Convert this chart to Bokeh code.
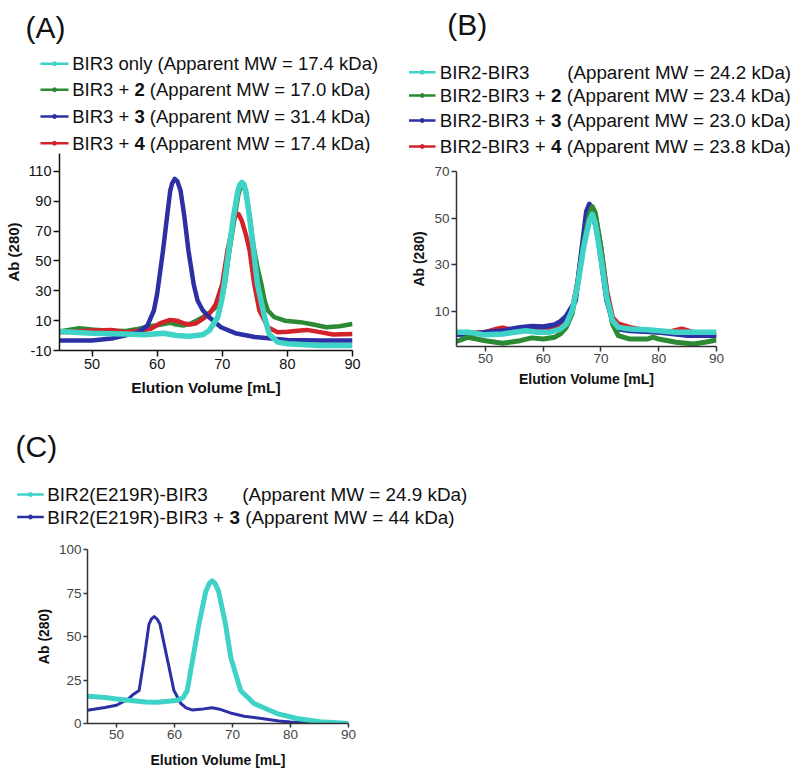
from bokeh.plotting import figure
from bokeh.models import Range1d, FixedTicker
from bokeh.core.properties import value
from bokeh.layouts import column, row
from bokeh.embed import file_html
from bokeh.resources import INLINE

# ---------------- data ----------------
# Panel A : BIR3
A_blue_x = [45, 50, 53, 55, 57, 58.5, 59.5, 60, 60.9, 61.5, 62, 62.3, 62.7, 63.1, 63.6, 64.2, 64.8, 65.6, 66.2, 67, 68, 69.8, 72, 75, 80, 85, 90]
A_blue_y = [-3.3, -3.3, -2, 0, 2, 6.7, 16.8, 28, 57, 79, 97, 102, 105, 103.5, 97, 79, 57, 34.6, 23.5, 17, 12.3, 5.6, 1.6, -1, -3, -3.3, -3.3]
A_cyan_x = [45, 50, 55, 58, 61, 63, 65, 67, 68, 69.3, 69.9, 70.3, 71, 71.7, 72.4, 72.7, 73, 73.3, 73.6, 74.2, 74.8, 75.4, 76.5, 77.2, 78.5, 80, 85, 90]
A_cyan_y = [2.7, 1.6, 1.1, 0.5, 1.6, 0, -0.4, 0.5, 3.4, 12.3, 23.5, 34.6, 57, 79, 97, 101, 102.6, 101.5, 97, 79, 57, 34.6, 12.3, 1.1, -4.4, -5.5, -6.7, -6.7]
A_red_x = [45, 50, 53, 55, 57, 59, 60.5, 62, 63, 64, 65, 66, 67, 68, 69, 70, 70.8, 71.9, 72.5, 73, 73.6, 74.2, 74.9, 75.7, 77, 78.5, 80, 82, 83, 85, 87, 90]
A_red_y = [2.3, 3.4, 3.8, 2.3, 3, 4.5, 8.3, 10.5, 10, 8.3, 7.4, 8.3, 11.2, 14.5, 21, 34.6, 57, 79.6, 81.4, 77, 68, 57, 34.6, 16.8, 5.6, 2.3, 2.5, 3.4, 3.8, 2.3, 0.7, 1.1]
A_green_x = [45, 48, 50, 52, 55, 57, 59, 61, 62, 63, 64, 65, 66, 67, 68, 69, 70, 70.4, 71.1, 71.9, 72.5, 73, 73.6, 74.2, 74.8, 75.4, 76, 76.5, 77, 78, 79.6, 82, 84, 86, 88, 90]
A_green_y = [2.7, 5, 4, 3.4, 3, 4.5, 6.3, 7.8, 8.5, 7.4, 6.7, 7.8, 10, 12.3, 15.2, 19, 26, 34.6, 57, 79, 95, 101.5, 97, 80, 60, 45.8, 34.6, 23.5, 16.8, 12.3, 10, 9, 7.4, 5.6, 6.3, 7.8]

# Panel B : BIR2-BIR3
B_blue_x = [45, 48, 50, 53, 56, 58, 60, 62, 63, 64, 65.6, 66.3, 67, 67.5, 68, 68.5, 69.4, 70.2, 71, 72, 73, 75, 80, 85, 90]
B_blue_y = [0, 0.3, 1, 1.7, 3.1, 3.6, 3.4, 4.3, 5.7, 8, 14.6, 28.9, 43, 53, 56, 53, 43, 28.9, 14.6, 6, 2.4, 1.7, 1, -0.4, -0.4]
B_cyan_x = [45, 47, 50, 53, 55, 57, 59, 61, 63, 64, 65, 66, 67, 68, 68.5, 69, 70, 71, 72, 73, 75, 78, 80, 83, 86, 90]
B_cyan_y = [1, 1, -0.1, 0.3, 1, 1.7, 1, 1, 2.4, 4.6, 10.3, 21.7, 37.4, 48.9, 51.7, 48, 33, 16, 6, 3.1, 2.4, 2.1, 1.7, 1, 1, 1]
B_green_x = [45, 47, 50, 53, 56, 58, 60, 62, 63, 64, 65, 66, 67, 68, 68.5, 69, 70, 71, 72, 73, 75, 78, 79, 80, 83, 86, 88, 90]
B_green_y = [-2.9, -1.1, -2.6, -3.7, -2.6, -1.4, -1.9, -1.1, 0.3, 3.1, 8.9, 21.7, 38.9, 51.7, 54.9, 52.4, 37.4, 17.4, 4.6, -0.4, -1.9, -1.9, -1.1, -1.9, -3.3, -4, -3.3, -2.3]
B_red_x = [45, 50, 52, 53, 55, 58, 60, 62, 64, 65, 66, 67, 68, 68.5, 69, 70, 71, 72, 73, 75, 78, 80, 82, 84, 86, 88, 90]
B_red_y = [0.3, 1, 2.4, 2.9, 1.7, 1.7, 1.7, 3.1, 5.3, 10.3, 23, 40.3, 51.7, 54.6, 51.7, 37.4, 18.9, 7.4, 4.6, 3.1, 1.7, 1, 1.3, 2.4, 1, -0.4, -0.4]

# Panel C : BIR2(E219R)-BIR3
C_blue_x = [45, 48, 50, 52, 53, 53.9, 54.8, 55.6, 56, 56.5, 57, 57.5, 58.7, 59.9, 61.1, 62, 63, 65, 66.5, 68, 70, 72, 75, 78, 80, 85, 90]
C_blue_y = [7.6, 9.2, 10.5, 14, 17, 19, 38, 57, 60, 61.5, 60, 57, 38, 19, 11.5, 9, 7.8, 8.4, 9, 8, 5.7, 4.2, 2.9, 1.5, 0.8, 0.1, 0]
C_cyan_x = [45, 48, 50, 52, 55, 57, 59, 60.5, 61.5, 62.2, 63.2, 64.2, 65.4, 66, 66.5, 67, 67.6, 68.8, 69.7, 71.4, 73.7, 77.7, 81.1, 85.1, 90]
C_cyan_y = [15.6, 14.9, 14.1, 13.4, 12.4, 12.2, 12.8, 13.4, 15, 19, 38, 57, 76, 80.5, 82, 80.5, 76, 57, 38, 19, 11.5, 5.7, 2.9, 1, 0]

# ticks
X_TICKS = [50, 60, 70, 80, 90]
A_Y_TICKS = [-10, 10, 30, 50, 70, 90, 110]
B_Y_TICKS = [10, 30, 50, 70]
C_Y_TICKS = [0, 25, 50, 75, 100]

# legend texts
A_pre = ["BIR3 only", "BIR3 + ", "BIR3 + ", "BIR3 + "]
A_bold = ["", "2", "3", "4"]
A_mw = ["17.4", "17.0", "31.4", "17.4"]
B_pre = ["BIR2-BIR3", "BIR2-BIR3 + ", "BIR2-BIR3 + ", "BIR2-BIR3 + "]
B_bold = ["", "2", "3", "4"]
B_mw = ["24.2", "23.4", "23.0", "23.8"]
C_pre = ["BIR2(E219R)-BIR3", "BIR2(E219R)-BIR3 + "]
C_bold = ["", "3"]
C_mw = ["24.9", "44"]

FONT = "Liberation Sans"
CYAN = "#3fd3c7"
GREEN = "#2b8a33"
BLUE = "#2c30a4"
RED = "#d4222b"

# Arial / Liberation Sans advance widths (per 1000 em)
AW = {' ': 278, '(': 333, ')': 333, '+': 584, '-': 333, '.': 278, '=': 584,
      'A': 667, 'B': 667, 'D': 722, 'E': 667, 'I': 278, 'M': 833, 'R': 722, 'W': 944,
      'a': 556, 'e': 556, 'k': 500, 'l': 222, 'n': 556, 'o': 556, 'p': 556, 'r': 333,
      't': 278, 'y': 500}


def tw(s, size):
    return sum(AW.get(c, 556) for c in s) * size / 1000.0


def no_align(p):
    try:
        p.frame_align = False
    except Exception:
        pass


def header(width, height):
    h = figure(width=width, height=height, x_range=Range1d(0, width), y_range=Range1d(height, 0),
               output_backend="svg", toolbar_location=None, title=None, min_border=0,
               x_axis_location=None, y_axis_location=None)
    h.grid.visible = False
    h.outline_line_color = None
    h.background_fill_color = "white"
    h.border_fill_color = "white"
    no_align(h)
    return h


def put_text(h, X, Y, text, size, bold=False):
    h.text(x=[X], y=[Y], text=[text], text_font=value(FONT), text_font_size=value("%gpx" % size),
           text_font_style="bold" if bold else "normal", text_color="#111111",
           text_baseline="middle", text_align="left")


def put_legend(h, rows_y, line_x0, line_x1, text_x, colors, pres, bolds, mws, size, tab_x=None):
    for i, Y in enumerate(rows_y):
        c = colors[i]
        h.segment(x0=[line_x0], y0=[Y], x1=[line_x1], y1=[Y], line_color=c, line_width=2.5)
        h.scatter(x=[(line_x0 + line_x1) / 2.0], y=[Y], marker="circle", size=4,
                  fill_color=c, line_color=c)
        x = text_x
        pre = pres[i]
        put_text(h, x, Y, pre.strip(), size)
        x += tw(pre, size)
        if bolds[i]:
            put_text(h, x, Y, bolds[i], size, bold=True)
            x += tw(bolds[i], size)
        x += tw(" ", size)
        if tab_x is not None and i == 0:
            x = tab_x
        put_text(h, x, Y, "(Apparent MW = %s kDa)" % mws[i], size)


def make_panel(width, height, left, top, fw, fh, yr, yticks, tick_size, tick_color,
               axis_color, tick_out, xlab_size, ylab_size, xlab_stand, ylab_stand):
    p = figure(width=width, height=height, x_range=Range1d(45, 90), y_range=Range1d(*yr),
               output_backend="svg", toolbar_location=None, title=None,
               min_border_left=left, min_border_top=top,
               min_border_right=width - left - fw, min_border_bottom=height - top - fh)
    no_align(p)
    p.grid.visible = False
    p.outline_line_color = None
    p.background_fill_color = "white"
    p.border_fill_color = "white"
    p.xaxis.ticker = FixedTicker(ticks=X_TICKS)
    p.yaxis.ticker = FixedTicker(ticks=yticks)
    p.yaxis.major_label_overrides = {t: ("-%d" % -t if t < 0 else "%d" % t) for t in yticks}
    for ax in (p.xaxis, p.yaxis):
        ax.minor_tick_line_color = None
        ax.major_tick_in = 0
        ax.major_tick_out = tick_out
        ax.major_tick_line_color = axis_color
        ax.major_tick_line_width = 1.5
        ax.axis_line_color = axis_color
        ax.axis_line_width = 1.5
        ax.major_label_text_font = FONT
        ax.major_label_text_font_size = tick_size
        ax.major_label_text_color = tick_color
        ax.major_label_standoff = 2
        ax.axis_label_text_font = FONT
        ax.axis_label_text_font_style = "bold"
        ax.axis_label_text_color = "#111111"
    p.xaxis.axis_label = "Elution Volume [mL]"
    p.yaxis.axis_label = "Ab (280)"
    p.xaxis.axis_label_text_font_size = xlab_size
    p.yaxis.axis_label_text_font_size = ylab_size
    p.xaxis.axis_label_standoff = xlab_stand
    p.yaxis.axis_label_standoff = ylab_stand
    return p


# ---------------- Panel A ----------------
hA = header(408, 153)
put_text(hA, 25, 27, "(A)", 30)
put_legend(hA, [63.3, 89.3, 116, 142.7], 40, 68, 71.7, [CYAN, GREEN, BLUE, RED],
           A_pre, A_bold, A_mw, 18.5)
pA = make_panel(408, 255, 59, 0, 293, 197, (-10, 122), A_Y_TICKS, "14.5px", "#111111",
                "#111111", 6, "15.5px", "15px", 7, 3)
for xs, ys, col, lw in [(A_green_x, A_green_y, GREEN, 4.5), (A_red_x, A_red_y, RED, 4.5),
                        (A_blue_x, A_blue_y, BLUE, 4.5), (A_cyan_x, A_cyan_y, CYAN, 5.5)]:
    pA.line(xs, ys, line_color=col, line_width=lw, line_join="round")

# ---------------- Panel B ----------------
hB = header(392, 161)
put_text(hB, 38.7, 24, "(B)", 30)
put_legend(hB, [71.7, 95, 120, 146], 0.5, 27, 31.3, [CYAN, GREEN, BLUE, RED],
           B_pre, B_bold, B_mw, 18.8, tab_x=158.7)
pB = make_panel(392, 247, 44, 10, 264, 175, (-5.1, 70), B_Y_TICKS, "13.5px", "#444444",
                "#333333", 5, "14px", "14px", 5, 4)
for xs, ys, col, lw in [(B_red_x, B_red_y, RED, 5), (B_blue_x, B_blue_y, BLUE, 5),
                        (B_green_x, B_green_y, GREEN, 5), (B_cyan_x, B_cyan_y, CYAN, 5.5)]:
    pB.line(xs, ys, line_color=col, line_width=lw, line_join="round")

# ---------------- Panel C ----------------
hC = header(800, 131)
put_text(hC, 15, 38, "(C)", 30)
put_legend(hC, [86, 108.5], 16.7, 43.3, 46.7, [CYAN, BLUE], C_pre, C_bold, C_mw, 18.9,
           tab_x=241.7)
pC = make_panel(800, 233, 87, 10, 261, 174, (0, 100), C_Y_TICKS, "13.5px", "#444444",
                "#333333", 4, "14px", "14px", 10, 4)
for xs, ys, col, lw in [(C_blue_x, C_blue_y, BLUE, 3), (C_cyan_x, C_cyan_y, CYAN, 5)]:
    pC.line(xs, ys, line_color=col, line_width=lw, line_join="round")

layout = column(row(column(hA, pA), column(hB, pB)), column(hC, pC))
open("out.html", "w").write(file_html(layout, INLINE))
